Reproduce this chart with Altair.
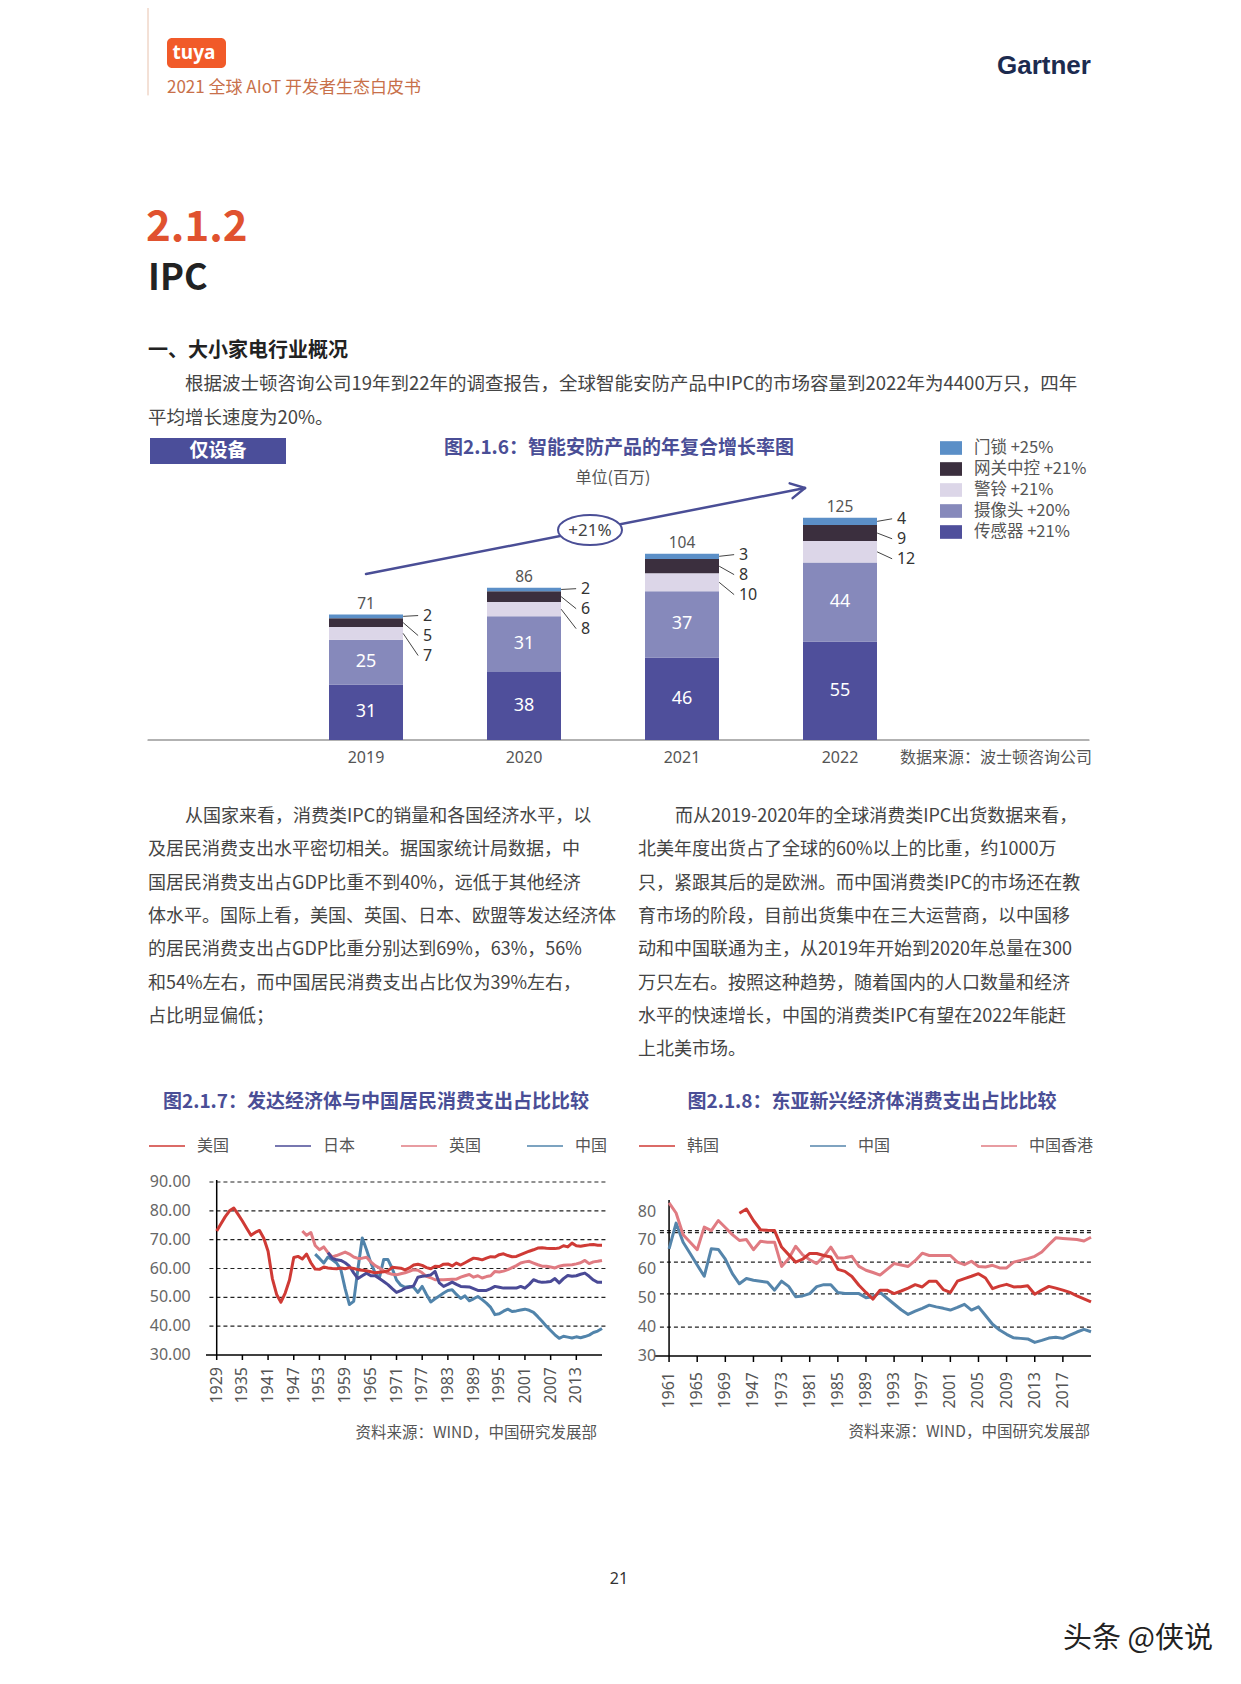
import altair as alt
import pandas as pd

CJK = "Noto Sans CJK SC"
LAT = "Noto Sans"
W, H = 1225, 1655
M = 8  # page margin of the html body
NAVY = "#4a4e96"

# ---------------- bar chart data (图2.1.6) ----------------
bar_years = [2019, 2020, 2021, 2022]
bar_categories = ["传感器", "摄像头", "警铃", "网关中控", "门锁"]
bar_growth = ["+21%", "+20%", "+21%", "+21%", "+25%"]
sensor = [31, 38, 46, 55]
camera = [25, 31, 37, 44]
alarm = [7, 8, 10, 12]
gateway = [5, 6, 8, 9]
lock = [2, 2, 3, 4]
bar_totals = [71, 86, 104, 125]
bar_colors = ["#4f4f9b", "#8689bb", "#dcd6e8", "#3b2f3e", "#5b8fc7"]

# ---------------- line chart 1 (图2.1.7) ----------------
series_1 = ["美国", "日本", "英国", "中国"]
colors_1 = ["#cf3a35", "#4a4a96", "#e07b82", "#5184ab"]
us_start = 1929
us = [73.0, 75.5, 78.0, 80.0, 81.0, 78.8, 76.5, 74.0, 71.5, 72.5,
      73.2, 70.5, 66.0, 56.5, 51.0, 48.3, 51.5, 56.0, 63.8, 64.2,
      63.3, 65.0, 62.0, 59.8, 59.7, 60.5, 60.2, 60.0, 59.9, 60.2,
      59.9, 60.3, 60.0, 59.6, 59.4, 59.2, 58.9, 58.5, 58.7, 58.9,
      59.2, 60.4, 60.3, 60.1, 59.5, 60.2, 61.2, 61.5, 61.1, 60.3,
      59.9, 60.8, 60.7, 61.5, 61.6, 60.9, 61.9, 61.2, 62.0, 62.8,
      63.6, 63.4, 63.0, 63.6, 64.1, 64.0, 64.8, 65.1, 64.5, 64.1,
      64.2, 64.8, 65.4, 66.0, 66.5, 67.1, 67.2, 67.0, 66.9, 66.9,
      67.1, 67.9, 67.5, 68.8, 67.9, 67.7, 68.0, 68.2, 68.3, 68.1,
      68.1]
uk_start = 1949
uk = [73.0, 71.5, 72.5, 68.0, 66.5, 67.5, 65.5, 64.0, 64.5, 65.1,
      65.7, 65.0, 64.0, 63.5, 63.6, 63.9, 62.3, 61.0, 60.2, 59.2,
      58.4, 58.0, 57.8, 58.2, 58.5, 59.0, 59.6, 59.4, 58.5, 57.3,
      56.8, 56.1, 56.1, 56.1, 56.2, 56.3, 56.3, 57.0, 57.5, 57.9,
      57.0, 57.5, 56.7, 57.2, 57.5, 59.0, 58.8, 59.1, 59.6, 60.3,
      61.0, 61.9, 62.3, 62.5, 61.9, 61.3, 60.8, 60.8, 60.5, 60.2,
      60.8, 61.1, 61.2, 61.3, 61.6, 62.0, 62.8, 61.7, 62.3, 62.5,
      62.8]
jp_start = 1955
jp = [65.5, 63.5, 63.0, 62.8, 62.0, 60.8, 58.5, 56.5, 57.5, 58.4,
      57.5, 57.5, 56.5, 55.5, 54.4, 53.0, 51.7, 52.3, 53.2, 53.5,
      54.0, 57.0, 57.3, 57.5, 57.8, 59.0, 55.0, 53.8, 54.5, 55.3,
      54.5, 53.8, 53.7, 53.6, 53.0, 52.4, 52.4, 52.4, 53.0, 53.8,
      53.5, 53.2, 53.2, 53.2, 53.2, 53.8, 53.2, 54.5, 56.1, 55.5,
      55.2, 55.3, 55.5, 56.5, 55.0, 56.5, 57.6, 57.3, 57.5, 58.0,
      58.4, 57.3, 56.0, 55.2, 55.2]
cn1_start = 1952
cn1 = [65.0, 63.5, 61.9, 64.0, 63.0, 61.9, 59.6, 53.0, 47.5, 48.6,
       60.0, 70.6, 66.5, 62.0, 58.5, 56.7, 63.1, 63.1, 60.0, 56.0,
       54.2, 53.5, 53.8, 53.5, 51.7, 53.8, 51.0, 48.4, 49.5, 50.5,
       51.5, 52.4, 52.6, 51.0, 49.6, 50.5, 48.8, 49.5, 50.3, 49.2,
       48.0, 46.5, 44.0, 44.3, 45.2, 45.9, 45.1, 45.3, 45.6, 45.9,
       45.5, 44.8, 43.3, 41.7, 40.0, 38.5, 37.0, 35.8, 36.5, 36.2,
       35.9, 36.3, 36.0, 36.4, 36.9, 37.8, 38.3, 39.2]
y_ticks_1 = [30, 40, 50, 60, 70, 80, 90]
y_labels_1 = ["30.00", "40.00", "50.00", "60.00", "70.00", "80.00", "90.00"]
x_ticks_1 = [1929, 1935, 1941, 1947, 1953, 1959, 1965, 1971, 1977, 1983,
             1989, 1995, 2001, 2007, 2013]
x_labels_1 = [str(v) for v in x_ticks_1]
grid_1 = [40, 50, 60, 70, 80, 90]

# ---------------- line chart 2 (图2.1.8) ----------------
series_2 = ["韩国", "中国", "中国香港"]
colors_2 = ["#cf3a35", "#5585ab", "#e07b82"]
kr_start = 1971
kr = [79.4, 80.9, 76.9, 73.7, 73.5, 73.4, 67.7, 65.1, 62.5, 63.5,
      65.5, 65.5, 64.8, 64.3, 60.0, 59.3, 57.5, 54.5, 52.0, 49.7,
      52.8, 52.8, 51.6, 52.5, 53.5, 54.7, 53.9, 55.9, 55.9, 53.0,
      52.0, 55.9, 56.8, 57.6, 58.5, 57.0, 53.3, 54.2, 54.8, 53.9,
      54.0, 54.3, 51.4, 52.8, 54.1, 53.5, 52.8, 52.0, 50.8, 49.8,
      48.7]
cn2_start = 1961
cn2 = [67.1, 76.0, 69.4, 65.5, 61.5, 57.6, 67.1, 66.9, 63.5, 58.5,
       55.0, 56.8, 56.2, 55.9, 55.5, 52.8, 55.9, 54.1, 50.5, 50.8,
       51.6, 54.0, 54.7, 54.7, 52.0, 51.6, 51.6, 51.6, 50.2, 50.5,
       52.0, 50.0, 48.0, 46.0, 44.4, 45.5, 46.5, 47.6, 47.0, 46.5,
       45.9, 46.8, 47.9, 45.9, 47.0, 44.0, 41.0, 39.0, 37.5, 36.3,
       36.1, 35.9, 34.7, 35.4, 36.2, 36.5, 36.1, 37.2, 38.3, 39.2,
       38.4]
hk_start = 1961
hk = [83.0, 79.5, 72.0, 69.4, 66.8, 74.6, 73.4, 76.9, 74.5, 72.0,
      70.0, 70.3, 66.8, 69.7, 69.4, 69.4, 61.0, 63.7, 68.0, 65.0,
      63.3, 62.0, 64.5, 67.7, 63.9, 64.0, 64.5, 61.0, 59.7, 58.9,
      58.0, 60.0, 62.0, 61.5, 61.0, 63.0, 65.6, 64.8, 64.8, 64.8,
      64.8, 62.5, 61.6, 62.8, 61.0, 60.8, 61.4, 60.5, 60.5, 62.5,
      63.1, 63.7, 64.5, 66.0, 68.5, 70.9, 70.7, 70.5, 70.3, 69.8,
      71.1]
y_ticks_2 = [30, 40, 50, 60, 70, 80]
y_labels_2 = ["30", "40", "50", "60", "70", "80"]
x_ticks_2 = [1961, 1965, 1969, 1973, 1977, 1981, 1985, 1989, 1993, 1997,
             2001, 2005, 2009, 2013, 2017]
x_labels_2 = ["1961", "1965", "1969", "1947", "1973", "1981", "1985", "1989",
              "1993", "1997", "2001", "2005", "2009", "2013", "2017"]
grid_2 = [40, 51.5, 62.5, 72.7, 73.4]

# ---------------- page text ----------------
para_1 = ["根据波士顿咨询公司19年到22年的调查报告，全球智能安防产品中IPC的市场容量到2022年为4400万只，四年",
          "平均增长速度为20%。"]
col_left = ["从国家来看，消费类IPC的销量和各国经济水平，以",
            "及居民消费支出水平密切相关。据国家统计局数据，中",
            "国居民消费支出占GDP比重不到40%，远低于其他经济",
            "体水平。国际上看，美国、英国、日本、欧盟等发达经济体",
            "的居民消费支出占GDP比重分别达到69%，63%，56%",
            "和54%左右，而中国居民消费支出占比仅为39%左右，",
            "占比明显偏低；"]
col_right = ["而从2019-2020年的全球消费类IPC出货数据来看，",
             "北美年度出货占了全球的60%以上的比重，约1000万",
             "只，紧跟其后的是欧洲。而中国消费类IPC的市场还在教",
             "育市场的阶段，目前出货集中在三大运营商，以中国移",
             "动和中国联通为主，从2019年开始到2020年总量在300",
             "万只左右。按照这种趋势，随着国内的人口数量和经济",
             "水平的快速增长，中国的消费类IPC有望在2022年能赶",
             "上北美市场。"]

ONE = pd.DataFrame({"k": [0]})


def P(v):
    return v - M


def txt(s, x, y, size=18, color="#444444", weight="normal", align="left",
        font=CJK, baseline="middle"):
    return alt.Chart(ONE).mark_text(
        text=s, fontSize=size, color=color, fontWeight=weight, align=align,
        baseline=baseline, font=font).encode(x=alt.value(P(x)), y=alt.value(P(y)))


def box(x0, y0, x1, y1, color, radius=0):
    return alt.Chart(ONE).mark_rect(color=color, cornerRadius=radius).encode(
        x=alt.value(P(x0)), x2=alt.value(P(x1)), y=alt.value(P(y0)), y2=alt.value(P(y1)))


def seg(x0, y0, x1, y1, color, width=1.0):
    return alt.Chart(ONE).mark_rule(color=color, strokeWidth=width, strokeCap="round").encode(
        x=alt.value(P(x0)), x2=alt.value(P(x1)), y=alt.value(P(y0)), y2=alt.value(P(y1)))


layers = []
# header
layers.append(seg(148, 8, 148, 95, "#e8c2ad", 1))
layers.append(box(167, 38, 226, 68, "#f15a29", 5))
layers.append(txt("tuya", 194, 53, 19, "white", "bold", "center", LAT))
layers.append(txt("2021 全球 AIoT 开发者生态白皮书", 167, 88, 17, "#c8704a"))
layers.append(txt("Gartner", 997, 66, 26, "#1c2b4f", "bold", "left", "Liberation Sans"))
# section titles
layers.append(txt("2.1.2", 146, 228, 42, "#e0522f", "bold"))
layers.append(txt("IPC", 148, 279, 36, "#222222", "bold"))
layers.append(txt("一、大小家电行业概况", 148, 351, 20, "#222222", "bold"))
layers.append(txt(para_1[0], 185, 384, 18.5))
layers.append(txt(para_1[1], 148, 418, 18.5))
# bar chart heading area
layers.append(box(150, 438, 286, 464, "#4b4e9a"))
layers.append(txt("仅设备", 218, 451, 19, "white", "bold", "center"))
layers.append(txt("图2.1.6：智能安防产品的年复合增长率图", 619, 448, 19, NAVY, "bold", "center"))
layers.append(txt("单位(百万)", 613, 478, 16, "#555555", "normal", "center"))
layers.append(txt("数据来源：波士顿咨询公司", 1092, 758, 16, "#555555", "normal", "right"))
layers.append(seg(148, 740, 1089, 740, "#666666", 1.2))
# two text columns
for i, s in enumerate(col_left):
    layers.append(txt(s, 185 if i == 0 else 148, 817 + i * 33.3))
for i, s in enumerate(col_right):
    layers.append(txt(s, 675 if i == 0 else 638, 817 + i * 33.3))
# line chart titles & sources
layers.append(txt("图2.1.7：发达经济体与中国居民消费支出占比比较", 376, 1102, 19, NAVY, "bold", "center"))
layers.append(txt("图2.1.8：东亚新兴经济体消费支出占比比较", 872, 1102, 19, NAVY, "bold", "center"))
layers.append(txt("资料来源：WIND，中国研究发展部", 597, 1433, 15.5, "#555555", "normal", "right"))
layers.append(txt("资料来源：WIND，中国研究发展部", 1090, 1432, 15.5, "#555555", "normal", "right"))
# footer
layers.append(txt("21", 619, 1579, 16, "#333333", "normal", "center", LAT))
layers.append(txt("头条 @侠说", 1213, 1639, 29, "#222222", "normal", "right"))

# ---------------- bar chart ----------------
vals = [sensor, camera, alarm, gateway, lock]
rows = []
for ci, cat in enumerate(bar_categories):
    for yi, yr in enumerate(bar_years):
        rows.append({"year": yr, "cat": cat, "label": f"{cat} {bar_growth[ci]}",
                     "rank": ci, "value": vals[ci][yi]})
bdf = pd.DataFrame(rows)
bdf["top"] = bdf.sort_values("rank").groupby("year")["value"].cumsum()
bdf["mid"] = bdf["top"] - bdf["value"] / 2
bdf["total"] = bdf.groupby("year")["value"].transform("sum")
tdf = pd.DataFrame({"year": bar_years,
                    "total": bdf.groupby("year")["value"].sum().values,
                    "label": [str(t) for t in bar_totals],
                    "base": [0] * len(bar_years)})

bx = alt.Scale(domain=[2019, 2022], range=[P(361), P(845)], nice=False, zero=False)
by = alt.Scale(domain=[0, 125], range=[P(740), P(516)], nice=False, zero=False)
legend_labels = [f"{c} {g}" for c, g in zip(bar_categories, bar_growth)][::-1]
legend_colors = bar_colors[::-1]

bars = alt.Chart(bdf).mark_bar(size=74).encode(
    x=alt.X("year:Q", scale=bx, axis=None),
    y=alt.Y("value:Q", stack="zero", scale=by, axis=None),
    color=alt.Color("label:N", scale=alt.Scale(domain=legend_labels, range=legend_colors),
                    legend=alt.Legend(title=None, orient="none", legendX=P(940), legendY=P(437),
                                      direction="vertical",
                                      symbolType="M-1,-0.62L1,-0.62L1,0.62L-1,0.62Z",
                                      symbolSize=484, symbolStrokeWidth=0, rowPadding=1,
                                      labelFontSize=16.5, labelColor="#555555", labelFont=CJK,
                                      labelOffset=12, labelLimit=300, padding=0)),
    order=alt.Order("rank:Q", sort="ascending"))

inbar = alt.Chart(bdf).transform_filter("datum.rank <= 1").mark_text(
    color="white", fontSize=18, font=LAT).encode(
    x=alt.X("year:Q", scale=bx, axis=None),
    y=alt.Y("mid:Q", scale=by, axis=None),
    text="value:Q")

totals = alt.Chart(tdf).mark_text(dy=-11, fontSize=15.5, color="#555555", font=LAT).encode(
    x=alt.X("year:Q", scale=bx, axis=None),
    y=alt.Y("total:Q", scale=by, axis=None),
    text="label:N")

year_labels = alt.Chart(tdf).mark_text(dy=18, fontSize=16, color="#555555", font=LAT).encode(
    x=alt.X("year:Q", scale=bx, axis=None),
    y=alt.Y("base:Q", scale=by, axis=None),
    text=alt.Text("year:Q", format="d"))

bar_layers = [bars, inbar, totals, year_labels]
for cat, dy in [("门锁", 1), ("网关中控", 21), ("警铃", 41)]:
    sub = alt.Chart(bdf).transform_filter(alt.datum.cat == cat)
    bar_layers.append(sub.transform_calculate(ex="datum.year + 0.235", ex2="datum.year + 0.33")
                      .mark_rule(y2Offset=dy, color="#444444", strokeWidth=1).encode(
        x=alt.X("ex:Q", scale=bx, axis=None), x2="ex2:Q",
        y=alt.Y("mid:Q", scale=by, axis=None), y2="total:Q"))
    bar_layers.append(sub.transform_calculate(lx="datum.year + 0.36")
                      .mark_text(align="left", dy=dy, fontSize=16, color="#333333", font=LAT).encode(
        x=alt.X("lx:Q", scale=bx, axis=None),
        y=alt.Y("total:Q", scale=by, axis=None),
        text="value:Q"))
bar_group = alt.layer(*bar_layers)


# ---------------- line charts ----------------
def series_df(name, start, values):
    return pd.DataFrame({"year": list(range(start, start + len(values))),
                         "value": values, "series": name})


df1 = pd.concat([series_df("中国", cn1_start, cn1), series_df("英国", uk_start, uk),
                 series_df("日本", jp_start, jp), series_df("美国", us_start, us)])
df2 = pd.concat([series_df("中国", cn2_start, cn2), series_df("中国香港", hk_start, hk),
                 series_df("韩国", kr_start, kr)])

common_leg = dict(title=None, orient="none", direction="horizontal", symbolType="stroke",
                  symbolSize=1296, symbolStrokeWidth=1.5, labelFontSize=16,
                  labelColor="#555555", labelFont=CJK, labelOffset=11, padding=0)


def line_group(df, series, colors, xs, ys, legend, grid_vals, gx0, gx1,
               xdom, ydom, yaxis_at, x_ticks, x_labels, y_ticks, y_labels,
               tick_len, xlab_pad, ylab_pad):
    X = lambda f: alt.X(f, scale=xs, axis=None)
    Y = lambda f: alt.Y(f, scale=ys, axis=None)
    grid = alt.Chart(pd.DataFrame({"g": grid_vals})).transform_calculate(
        a=str(gx0), b=str(gx1)).mark_rule(strokeDash=[4, 3], color="#222222", strokeWidth=1.2).encode(
        x=X("a:Q"), x2="b:Q", y=Y("g:Q"))
    # axis domain lines drawn through the scales
    xdomain = alt.Chart(ONE).transform_calculate(
        a=str(xdom[0]), b=str(xdom[1]), c=str(ydom[0])).mark_rule(
        color="#000000", strokeWidth=1.5).encode(x=X("a:Q"), x2="b:Q", y=Y("c:Q"))
    ydomain = alt.Chart(ONE).transform_calculate(
        a=str(yaxis_at), c=str(ydom[0]), d=str(ydom[1])).mark_rule(
        color="#000000", strokeWidth=1.5).encode(x=X("a:Q"), y=Y("c:Q"), y2="d:Q")
    xt = pd.DataFrame({"t": x_ticks, "lab": x_labels})
    ticks = alt.Chart(xt).transform_calculate(c=str(ydom[0])).mark_rule(
        color="#000000", strokeWidth=1.5, y2Offset=tick_len).encode(
        x=X("t:Q"), y=Y("c:Q"), y2="c:Q")
    xlabs = alt.Chart(xt).transform_calculate(c=str(ydom[0])).mark_text(
        angle=270, align="right", baseline="middle", yOffset=xlab_pad, fontSize=16,
        color="#555555", font=LAT).encode(x=X("t:Q"), y=Y("c:Q"), text="lab:N")
    yt = pd.DataFrame({"t": y_ticks, "lab": y_labels})
    ylabs = alt.Chart(yt).transform_calculate(a=str(yaxis_at)).mark_text(
        align="right", baseline="middle", xOffset=-ylab_pad, fontSize=16,
        color="#666666", font=LAT).encode(x=X("a:Q"), y=Y("t:Q"), text="lab:N")
    lines = alt.Chart(df).mark_line(strokeWidth=3, strokeJoin="round").encode(
        x=X("year:Q"), y=Y("value:Q"),
        color=alt.Color("series:N", scale=alt.Scale(domain=series, range=colors), legend=legend))
    return alt.layer(grid, xdomain, ydomain, ticks, xlabs, ylabs, lines)


xs1 = alt.Scale(domain=[1926.5, 2019], range=[P(206), P(602)], nice=False, zero=False)
ys1 = alt.Scale(domain=[30, 90.7], range=[P(1355), P(1180)], nice=False, zero=False)
leg1 = alt.Legend(legendX=P(148), legendY=P(1127), columnPadding=42, **common_leg)
g1 = line_group(df1, series_1, colors_1, xs1, ys1, leg1, grid_1, 1927.3, 2020.2,
                (1926.5, 2019), (30, 90.7), 1929, x_ticks_1, x_labels_1, y_ticks_1, y_labels_1,
                5, 12, 26)

xs2 = alt.Scale(domain=[1959, 2021], range=[P(655), P(1091)], nice=False, zero=False)
ys2 = alt.Scale(domain=[30, 84], range=[P(1356), P(1200)], nice=False, zero=False)
leg2 = alt.Legend(legendX=P(638), legendY=P(1127), columnPadding=87, **common_leg)
g2 = line_group(df2, series_2, colors_2, xs2, ys2, leg2, grid_2, 1959.7, 2021.2,
                (1959, 2021), (30, 84), 1961, x_ticks_2, x_labels_2, y_ticks_2, y_labels_2,
                6, 16, 13)

# ---------------- growth arrow annotation ----------------
ax0, ay0, ax1, ay1 = 366, 574, 805, 488
annot = [
    seg(ax0, ay0, ax1, ay1, NAVY, 2.5),
    seg(ax1, ay1, ax1 - 15.3, ay1 - 4.6, NAVY, 2.5),
    seg(ax1, ay1, ax1 - 12.4, ay1 + 10.1, NAVY, 2.5),
    alt.Chart(ONE).mark_point(shape="M-1,0A1,0.47,0,1,0,1,0A1,0.47,0,1,0,-1,0Z", size=4096,
                              filled=True, fill="white", stroke=NAVY, strokeWidth=2,
                              opacity=1).encode(x=alt.value(P(590)), y=alt.value(P(530))),
    txt("+21%", 590, 531, 17, "#444444", "normal", "center", LAT),
]

chart = alt.layer(*layers, bar_group, g1, g2, *annot).resolve_scale(
    x="independent", y="independent", color="independent"
).properties(
    width=W, height=H, padding=0, background="white",
    autosize=alt.AutoSizeParams(type="none")
).configure_view(stroke=None)

chart.save("out.html", embed_options={"renderer": "svg", "actions": False})
